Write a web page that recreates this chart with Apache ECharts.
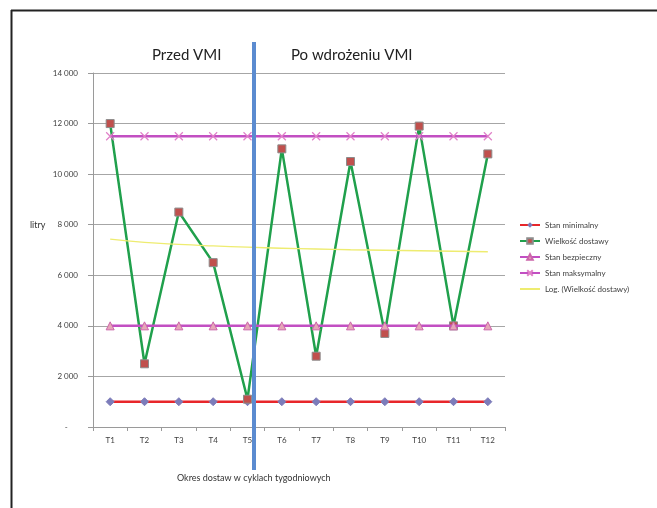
<!DOCTYPE html>
<html>
<head>
<meta charset="utf-8">
<script src="https://cdn.jsdelivr.net/npm/echarts@6/dist/echarts.min.js"></script>
<style>html,body{margin:0;padding:0;background:#fff}#c{width:657px;height:508px}</style>
</head>
<body>
<div id="c"></div>
<script>
const categories = ['T1','T2','T3','T4','T5','T6','T7','T8','T9','T10','T11','T12'];
const stanMinimalny = [1000,1000,1000,1000,1000,1000,1000,1000,1000,1000,1000,1000];
const wielkoscDostawy = [12000,2500,8500,6500,1100,11000,2800,10500,3700,11900,4000,10800];
const stanBezpieczny = [4000,4000,4000,4000,4000,4000,4000,4000,4000,4000,4000,4000];
const stanMaksymalny = [11500,11500,11500,11500,11500,11500,11500,11500,11500,11500,11500,11500];
const logTrend = [7430,7300,7220,7160,7110,7070,7040,7010,6990,6970,6950,6930];
const seriesNames = ['Stan minimalny','Wielkość dostawy','Stan bezpieczny','Stan maksymalny','Log. (Wielkość dostawy)'];
const yTicks = {min:0, max:14000, interval:2000};

const FONT = 'Lato, "Open Sans", sans-serif';
const chart = echarts.init(document.getElementById('c'), null, {renderer:'canvas'});
const fmt = v => v === 0 ? '-     ' : String(v).replace(/\B(?=(\d{3})+(?!\d))/g, ' ');
const xPath = 'path://M0,0L10,10M10,0L0,10';

chart.setOption({
  animation:false,
  backgroundColor:'#fff',
  textStyle:{fontFamily:FONT},
  grid:{left:93, right:152, top:73, bottom:81, containLabel:false},
  legend:{
    orient:'vertical', left:514, top:216, itemWidth:20, itemHeight:7, itemGap:8,
    textStyle:{fontSize:8, color:'#404040', fontFamily:FONT},
    data:[seriesNames[0], seriesNames[1], seriesNames[2], seriesNames[3],
      {name:seriesNames[4], itemStyle:{opacity:0}}]
  },
  xAxis:{
    type:'category', data:categories, boundaryGap:true,
    axisLine:{lineStyle:{color:'#9a9a9a'}},
    axisTick:{show:true, length:4, lineStyle:{color:'#9a9a9a'}},
    axisLabel:{fontSize:8, color:'#404040', margin:9, fontFamily:FONT},
    splitLine:{show:false}
  },
  yAxis:{
    type:'value', min:yTicks.min, max:yTicks.max, interval:yTicks.interval,
    axisLine:{show:true, lineStyle:{color:'#9a9a9a'}},
    axisTick:{show:true, length:5, lineStyle:{color:'#9a9a9a'}},
    axisLabel:{fontSize:8, color:'#404040', margin:15, formatter:fmt, fontFamily:FONT},
    splitLine:{show:true, lineStyle:{color:'#a6a6a6', width:1}}
  },
  series:[
    {name:seriesNames[0], type:'line', data:stanMinimalny, symbol:'diamond', symbolSize:8,
      lineStyle:{color:'#e8262a', width:2.5}, itemStyle:{color:'#7c7cba', borderColor:'#7c7cba'}, z:2},
    {name:seriesNames[1], type:'line', data:wielkoscDostawy, symbol:'rect', symbolSize:8,
      lineStyle:{color:'#20a04c', width:2.5}, itemStyle:{color:'#c0504d', borderColor:'#8c8c8c', borderWidth:1}, z:3},
    {name:seriesNames[2], type:'line', data:stanBezpieczny, symbol:'triangle', symbolSize:8,
      lineStyle:{color:'#c24fc2', width:2.5}, itemStyle:{color:'#e6a6b8', borderColor:'#cc66aa', borderWidth:1}, z:4},
    {name:seriesNames[3], type:'line', data:stanMaksymalny, symbol:xPath, symbolSize:8,
      lineStyle:{color:'#c24fc2', width:2.5}, itemStyle:{color:'rgba(0,0,0,0)', borderColor:'#e080c8', borderWidth:1.2}, z:4},
    {name:seriesNames[4], type:'line', data:logTrend, symbol:'none', smooth:true,
      lineStyle:{color:'#eeec70', width:1.3}, itemStyle:{color:'#eeec70'}, z:5}
  ],
  graphic:[
    {type:'line', shape:{x1:11.5, y1:10, x2:11.5, y2:508}, style:{stroke:'#222', lineWidth:2}, z:100},
    {type:'line', shape:{x1:11, y1:10.5, x2:657, y2:10.5}, style:{stroke:'#222', lineWidth:2}, z:100},
    {type:'rect', shape:{x:252, y:42, width:4, height:428}, style:{fill:'#5b8bd0'}, z:100},
    {type:'text', left:152, top:48, style:{text:'Przed VMI', font:'15px '+FONT, fill:'#222'}, z:100},
    {type:'text', left:291, top:48, style:{text:'Po wdrożeniu VMI', font:'15px '+FONT, fill:'#222'}, z:100},
    {type:'text', left:30, top:221, style:{text:'litry', font:'9px '+FONT, fill:'#333'}, z:100},
    {type:'text', left:177, top:474, style:{text:'Okres dostaw w cyklach tygodniowych', font:'9px '+FONT, fill:'#333'}, z:100}
  ]
});
</script>
</body>
</html>
